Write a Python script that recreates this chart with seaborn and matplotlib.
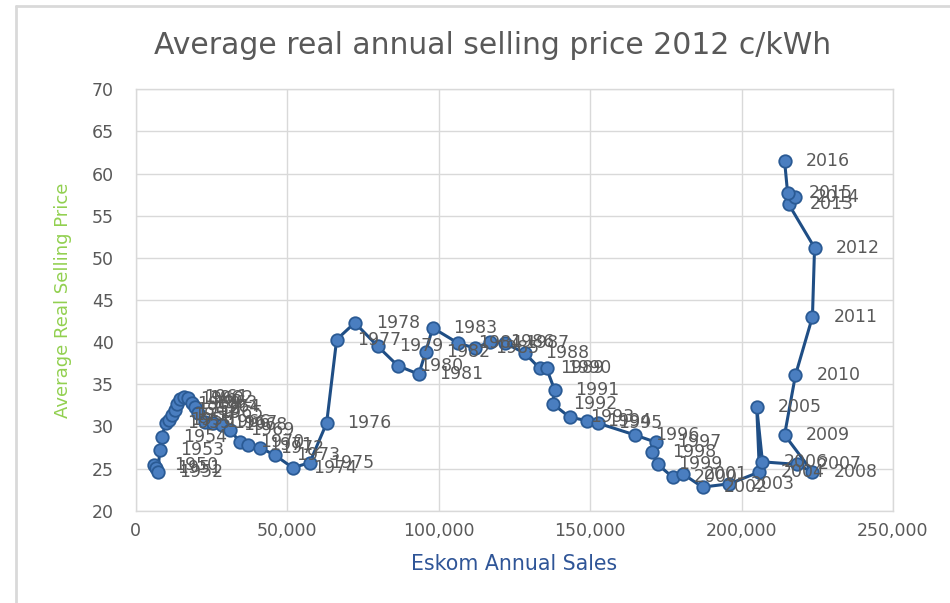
import numpy as np
import pandas as pd
import matplotlib.pyplot as plt
import seaborn as sns
from matplotlib.lines import Line2D
from matplotlib.ticker import FuncFormatter

# datos (ventas en GWh, precio real c/kWh)
anios = list(range(1950, 2017))
ventas = [5900, 6600, 7300, 7900, 8600, 9900, 10900, 11900, 12900, 13500,
          14500, 15800, 17200, 18500, 19500, 20500, 22800, 25400, 28400, 31000,
          34300, 37000, 40900, 45900, 51800, 57400, 63000, 66300, 72300, 79900,
          86500, 93400, 95700, 98000, 106300, 111900, 116800, 121800, 128400, 133300,
          135600, 138300, 137600, 143200, 148800, 152500, 164700, 171900, 170300, 172300,
          177200, 180500, 187100, 196000, 205900, 205000, 206900, 218200, 223400, 214200,
          217800, 223400, 224100, 215500, 217500, 215200, 214200]
precio = [25.4, 25.1, 24.6, 27.2, 28.8, 30.4, 30.8, 31.4, 32.0, 32.7,
          33.3, 33.5, 33.4, 32.8, 32.3, 31.6, 30.5, 30.4, 30.2, 29.6,
          28.2, 27.8, 27.5, 26.6, 25.1, 25.7, 30.4, 40.3, 42.3, 39.5,
          37.2, 36.2, 38.8, 41.7, 39.9, 39.3, 40.0, 39.9, 38.7, 36.9,
          36.9, 34.3, 32.7, 31.1, 30.7, 30.4, 29.0, 28.1, 27.0, 25.5,
          24.0, 24.4, 22.8, 23.2, 24.6, 32.3, 25.8, 25.5, 24.6, 29.0,
          36.1, 43.0, 51.2, 56.4, 57.2, 57.7, 61.5]

x_ticks = [0, 50000, 100000, 150000, 200000, 250000]
y_ticks = [20, 25, 30, 35, 40, 45, 50, 55, 60, 65, 70]

df = pd.DataFrame({"anio": anios, "ventas": ventas, "precio": precio})

#%%
sns.set_theme(style="whitegrid")
plt.rcParams["font.family"] = ["DejaVu Sans"]

fig, ax = plt.subplots(figsize=(9.5, 6.03), dpi=100)
fig.subplots_adjust(left=0.143, right=0.940, bottom=0.153, top=0.852)

sns.lineplot(data=df, x="ventas", y="precio", sort=False, estimator=None,
             color="#1F4E85", linewidth=2.2, marker="o", markersize=9,
             markerfacecolor="#4A7EC0", markeredgecolor="#2A5A94",
             markeredgewidth=1.3, ax=ax)

for a, v, p in zip(df["anio"], df["ventas"], df["precio"]):
    ax.annotate(str(a), (v, p), xytext=(15, 0), textcoords="offset points",
                ha="left", va="center", fontsize=12.5, color="#595959")

ax.set_xlim(0, 250000)
ax.set_ylim(20, 70)
ax.set_xticks(x_ticks)
ax.set_yticks(y_ticks)
ax.xaxis.set_major_formatter(FuncFormatter(lambda v, pos: f"{int(v):,}"))
ax.tick_params(axis="x", colors="#595959", labelsize=12.5, pad=8, length=0)
ax.tick_params(axis="y", colors="#595959", labelsize=12.5, pad=16, length=0)
ax.grid(True, color="#D9D9D9", linewidth=1)
for s in ax.spines.values():
    s.set_color("#D9D9D9")
    s.set_linewidth(1)

ax.set_xlabel("Eskom Annual Sales", color="#2F5597", fontsize=14.8, labelpad=10)
ax.set_ylabel("Average Real Selling Price", color="#92D050", fontsize=13, labelpad=14)

fig.text(0.518, 0.925, "Average real annual selling price 2012 c/kWh",
         ha="center", va="center", fontsize=21.5, color="#595959")

# marco exterior del grafico
fig.add_artist(Line2D([0.017, 0.017], [0, 0.99], transform=fig.transFigure,
                      color="#D9D9D9", linewidth=2))
fig.add_artist(Line2D([0.017, 1.0], [0.99, 0.99], transform=fig.transFigure,
                      color="#D9D9D9", linewidth=2))

plt.savefig("out.png", dpi=100)
